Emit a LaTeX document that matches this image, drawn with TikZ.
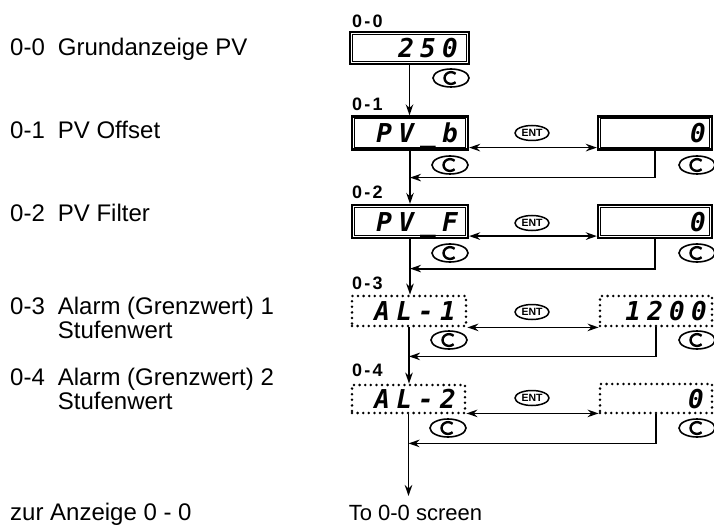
\documentclass[tikz,border=0pt]{standalone}
\usepackage{fontspec}
\setmainfont{Liberation Sans}
\newfontfamily\labfont[LetterSpace=12]{Liberation Sans}
\newfontfamily\segfont[LetterSpace=24]{DejaVu Sans Mono}
\usetikzlibrary{shapes.geometric,arrows.meta,calc}
\begin{document}
\begin{tikzpicture}[x=1pt,y=-1pt,
  conn/.style={line width=1.8pt},
  arr/.style={conn,-{Stealth[length=11pt,width=7.5pt]}},
  biarr/.style={conn,{Stealth[length=11pt,width=7.5pt]}-{Stealth[length=11pt,width=7.5pt]}},
  lcd/.style={draw,line width=2.2pt,minimum width=116pt,minimum height=33pt,inner sep=0pt},
  dotlcd/.style={draw,line width=2.8pt,line cap=round,dash pattern=on 0pt off 5.6pt,minimum width=114pt,minimum height=30pt,inner sep=0pt},
  seg/.style={font=\segfont\bfseries\itshape\fontsize{26}{26}\selectfont,inner sep=0pt,anchor=base east},
  lab/.style={font=\labfont\bfseries\fontsize{18}{18}\selectfont,inner sep=0pt,anchor=west},
  desc/.style={font=\fontsize{24}{21.5}\selectfont,inner sep=0pt,anchor=base west},
  entkey/.style={ellipse,draw,line width=1.5pt,minimum width=34pt,minimum height=15pt,inner sep=0pt,font=\bfseries\fontsize{10.5}{11}\selectfont},
  ckey/.style={ellipse,draw,line width=1.6pt,minimum width=36pt,minimum height=18pt,inner sep=0pt},
  csym/.style={line width=2.4pt}
]
\path[use as bounding box,fill=white] (0,0) rectangle (714,529);

% left descriptions
\node[desc] (t0) at (10,55.6) {\begin{tabular}[t]{@{}l@{\hspace{13pt}}l@{}}0-0&Grundanzeige PV\end{tabular}};
\node[desc] (t1) at (10,138.6) {\begin{tabular}[t]{@{}l@{\hspace{13pt}}l@{}}0-1&PV Offset\end{tabular}};
\node[desc] (t2) at (10,221.6) {\begin{tabular}[t]{@{}l@{\hspace{13pt}}l@{}}0-2&PV Filter\end{tabular}};
\node[desc] (t3) at (10,314.6) {\begin{tabular}[t]{@{}l@{\hspace{13pt}}l@{}}0-3&Alarm (Grenzwert) 1\\&Stufenwert\end{tabular}};
\node[desc] (t4) at (10,385.6) {\begin{tabular}[t]{@{}l@{\hspace{13pt}}l@{}}0-4&Alarm (Grenzwert) 2\\&Stufenwert\end{tabular}};
\node[desc] (t5) at (10,520) {zur Anzeige 0 - 0};

% step labels
\node[lab] (l0) at (352,21) {0-0};
\node[lab] (l1) at (352,104) {0-1};
\node[lab] (l2) at (352,192) {0-2};
\node[lab] (l3) at (352,283) {0-3};
\node[lab] (l4) at (352,370) {0-4};

% displays
\node[lcd,minimum width=119pt,minimum height=32pt] (d0) at (409.5,48) {};
\node[lcd] (d1) at (410,133) {};
\node[lcd] (d2) at (410,221.5) {};
\node[dotlcd] (d3) at (409,311) {};
\node[dotlcd,minimum width=113pt,minimum height=28pt] (d4) at (408.5,399) {};
\node[lcd,minimum width=114pt] (r1) at (655,133) {};
\node[lcd,minimum width=114pt] (r2) at (655,221.5) {};
\node[dotlcd,minimum width=112pt] (r3) at (656,311) {};
\node[dotlcd,minimum width=112pt,minimum height=29pt] (r4) at (656,398.5) {};
\foreach \n in {d0,d1,d2,r1,r2}{
  \draw[line width=0.9pt] ($(\n.north west)+(3.5,3.5)$) rectangle ($(\n.south east)+(-3.5,-3.5)$);
}

% display readouts
\node[seg] (v0) at (458,58) {250};
\node[seg] (v1) at (458,143) {PV\_b};
\node[seg] (v2) at (458,231.5) {PV\_F};
\node[seg] (v3) at (456,320.5) {AL-1};
\node[seg] (v4) at (456,408.5) {AL-2};
\node[seg] (w1) at (706,143) {0};
\node[seg] (w2) at (706,231.5) {0};
\node[seg] (w3) at (707,320.5) {1200};
\node[seg] (w4) at (704,408) {0};

% keys
\node[entkey] (e1) at (532,133) {ENT};
\node[entkey] (e2) at (532,223) {ENT};
\node[entkey] (e3) at (532,312) {ENT};
\node[entkey] (e4) at (532,398) {ENT};
\node[ckey] (c0) at (451,78) {};
\node[ckey] (c1) at (450,165) {};
\node[ckey] (c2) at (450,253) {};
\node[ckey] (c3) at (449,340) {};
\node[ckey] (c4) at (448,428) {};
\node[ckey] (k1) at (697,165) {};
\node[ckey] (k2) at (697,253) {};
\node[ckey] (k3) at (697,340) {};
\node[ckey] (k4) at (697,428) {};
\foreach \c in {c0,c1,c2,c3,c4,k1,k2,k3,k4}{
  \draw[csym] ($(\c.center)+(4.6,4.2)$) arc[start angle=45,end angle=315,x radius=6.5,y radius=5.9];
}

% main flow
\draw[arr] (d0.south) -- (d0.south |- d1.north);
\draw[arr] (d1.south) -- (d1.south |- d2.north);
\draw[arr] (d2.south) -- (d2.south |- d3.north);
\draw[arr] (d3.south) -- (d3.south |- d4.north);
\coordinate (end) at (408.5,496);
\draw[arr] (d4.south) -- (end);
\node[font=\fontsize{22}{22}\selectfont,inner sep=0pt] (scr) at (415.5,513) {To 0-0 screen};

% ENT links
\draw[biarr] ($(d1.south east)+(0,-3)$) -- ($(r1.south west)+(0,-3)$);
\draw[biarr] ($(d2.south east)+(0,-3)$) -- ($(r2.south west)+(0,-3)$);
\draw[biarr] (d3.south east) -- (r3.south west);
\draw[biarr] ($(d4.south east)+(0,-1)$) -- ($(r4.south west |- d4.south)+(0,-1)$);

% return links
\draw[arr] (r1.south) |- ($(d1.south)+(0,27)$);
\draw[arr] (r2.south) |- ($(d2.south)+(0,29.5)$);
\draw[arr] (r3.south) |- ($(d3.south)+(0,29)$);
\draw[arr] (r4.south) |- ($(d4.south)+(0,29)$);
\end{tikzpicture}
\end{document}
